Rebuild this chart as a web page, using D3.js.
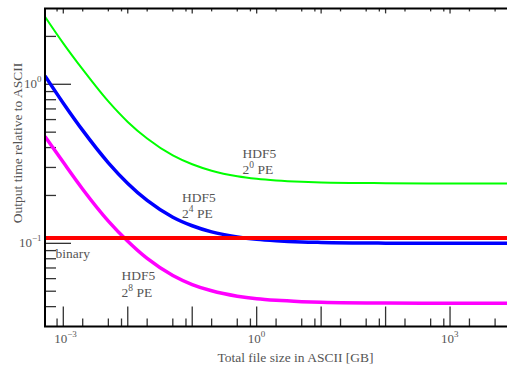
<!DOCTYPE html>
<html>
<head>
<meta charset="utf-8">
<script src="https://cdn.jsdelivr.net/npm/d3@7"></script>
<style>
  body { margin: 0; background: #fff; }
  svg { display: block; }
</style>
</head>
<body>
<figure id="plot" style="margin:0"></figure>
<script>
// file size in ASCII [GB]
const sizes = [5.2e-4, 1e-3, 2e-3, 5e-3, 1e-2, 2e-2, 5e-2, 0.1, 0.2, 0.5, 1, 2, 5, 10, 100, 1000, 1e4];
// output time relative to ASCII
const pe1   = [2.66, 1.81, 1.24, 0.78, 0.58, 0.456, 0.357, 0.314, 0.286, 0.264, 0.2545, 0.2485, 0.2437, 0.2416, 0.239, 0.238, 0.238];
const pe16  = [1.13, 0.761, 0.513, 0.321, 0.238, 0.186, 0.146, 0.129, 0.118, 0.1097, 0.106, 0.1038, 0.102, 0.1013, 0.1003, 0.1, 0.1];
const pe256 = [0.47, 0.323, 0.219, 0.138, 0.103, 0.0803, 0.0628, 0.0551, 0.0503, 0.0465, 0.0448, 0.0438, 0.043, 0.0426, 0.0421, 0.042, 0.042];
const binarySizes = [5.2e-4, 1e4];
const binary = [0.108, 0.108];

const xLabels = [1e-3, 1, 1e3];
const xLabelText = ["\u22123", "0", "3"];
const yLabels = [1, 0.1];
const yLabelText = ["0", "\u22121"];

const series = [
  { name: "HDF5", sup: "0", values: pe1, color: "#00ff00", width: 2, lx: 242.5, ly: 157.5 },
  { name: "HDF5", sup: "4", values: pe16, color: "#0000ff", width: 3.5, lx: 182, ly: 201.5 },
  { name: "HDF5", sup: "8", values: pe256, color: "#ff00ff", width: 3.5, lx: 121.5, ly: 280 }
];

const width = 507, height = 369;
const x0 = 45, y0 = 326.5, yTop = 8.4;

const x = d3.scaleLog().domain([5.2e-4, 1e4]).range([x0, 514.5]);
const y = d3.scaleLog().domain([0.03, 3]).range([y0, yTop]);

const svg = d3.select("#plot").append("svg")
  .attr("width", width)
  .attr("height", height)
  .attr("font-family", "'Liberation Serif', 'DejaVu Serif', serif");

svg.append("clipPath").attr("id", "clip")
  .append("rect").attr("x", x0).attr("y", yTop).attr("width", 470).attr("height", y0 - yTop);

// ticks: 2, 5, 8 minors on x, 1..9 on y
const xTicks = [];
for (let e = -4; e <= 4; e++) {
  [1, 2, 5, 8].forEach(m => {
    const v = m * Math.pow(10, e);
    if (v >= 5.2e-4 && v <= 1e4) xTicks.push({ v, major: m === 1 });
  });
}
const yTicks = [];
for (let e = -2; e <= 0; e++) {
  for (let m = 1; m <= 9; m++) {
    const v = m * Math.pow(10, e);
    if (v > 0.031 && v < 2.9) yTicks.push({ v, major: m === 1 });
  }
}

const tickG = svg.append("g").attr("stroke", "#333").attr("stroke-width", 1.3);
tickG.selectAll("line.xb").data(xTicks).join("line")
  .attr("class", "xb")
  .attr("x1", d => x(d.v)).attr("x2", d => x(d.v))
  .attr("y1", y0).attr("y2", d => y0 - (d.major ? 20 : 8));
tickG.selectAll("line.xt").data(xTicks).join("line")
  .attr("class", "xt")
  .attr("x1", d => x(d.v)).attr("x2", d => x(d.v))
  .attr("y1", yTop).attr("y2", d => yTop + (d.major ? 5 : 3));
tickG.selectAll("line.yl").data(yTicks).join("line")
  .attr("class", "yl")
  .attr("y1", d => y(d.v)).attr("y2", d => y(d.v))
  .attr("x1", x0).attr("x2", d => x0 + (d.major ? 26 : 11));

// curves
const line = d3.line()
  .x(d => x(d[0]))
  .y(d => y(d[1]))
  .curve(d3.curveMonotoneX);

const plot = svg.append("g").attr("clip-path", "url(#clip)");
plot.selectAll("path.s").data(series).join("path")
  .attr("class", "s")
  .attr("fill", "none")
  .attr("stroke", d => d.color)
  .attr("stroke-width", d => d.width)
  .attr("d", d => line(sizes.map((s, i) => [s, d.values[i]])));

plot.append("path")
  .attr("fill", "none")
  .attr("stroke", "#ff0000")
  .attr("stroke-width", 4)
  .attr("d", line(binarySizes.map((s, i) => [s, binary[i]])));

// frame
svg.append("path")
  .attr("fill", "none")
  .attr("stroke", "#000")
  .attr("stroke-width", 2)
  .attr("d", `M${width + 2},${yTop}H${x0}V${y0}H${width + 2}`);

// tick labels
const lab = svg.append("g").attr("fill", "#555").attr("font-size", 13);
lab.selectAll("text.xl").data(xLabels).join("text")
  .attr("class", "xl")
  .attr("x", d => x(d) - 9)
  .attr("y", 343)
  .call(t => t.append("tspan").text("10"))
  .call(t => t.append("tspan").attr("font-size", 9).attr("dy", -6).text((d, i) => xLabelText[i]));

lab.selectAll("text.yl").data(yLabels).join("text")
  .attr("class", "yl")
  .attr("text-anchor", "end")
  .attr("x", 41.5)
  .attr("y", d => y(d) + 4)
  .call(t => t.append("tspan").text("10"))
  .call(t => t.append("tspan").attr("font-size", 9).attr("dy", -6).text((d, i) => yLabelText[i]));

// axis titles
lab.append("text")
  .attr("x", 295.5)
  .attr("y", 362)
  .attr("text-anchor", "middle")
  .attr("font-size", 13.5)
  .text("Total file size in ASCII [GB]");

lab.append("text")
  .attr("transform", "translate(22,143) rotate(-90)")
  .attr("text-anchor", "middle")
  .attr("font-size", 13.5)
  .text("Output time relative to ASCII");

// curve labels
const cl = lab.selectAll("g.cl").data(series).join("g").attr("class", "cl");
cl.append("text")
  .attr("x", d => d.lx).attr("y", d => d.ly)
  .attr("font-size", 13.5)
  .text(d => d.name);
cl.append("text")
  .attr("x", d => d.lx).attr("y", d => d.ly + 16.5)
  .attr("font-size", 13.5)
  .call(t => t.append("tspan").text("2"))
  .call(t => t.append("tspan").attr("font-size", 9.5).attr("dy", -6).text(d => d.sup))
  .call(t => t.append("tspan").attr("dy", 6).text(" PE"));

lab.append("text")
  .attr("x", 55.5)
  .attr("y", 257.5)
  .attr("font-size", 13.5)
  .text("binary");
</script>
</body>
</html>
